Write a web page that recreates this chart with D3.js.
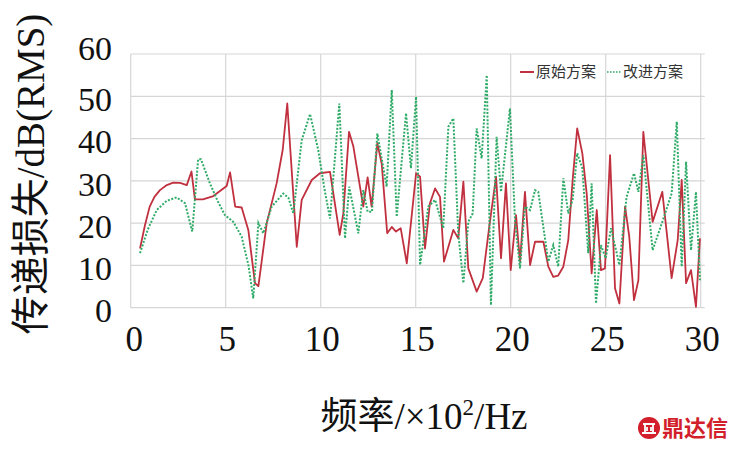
<!DOCTYPE html>
<html>
<head>
<meta charset="utf-8">
<script src="https://cdn.jsdelivr.net/npm/d3@7"></script>
<style>
  body { margin: 0; background: #fff; }
  svg { display: block; }
</style>
</head>
<body>
<svg id="chart" width="740" height="452"></svg>
<script>
// 原始方案 (red, solid)
let origFreq = [0.49, 0.75, 1.0, 1.25, 1.54, 1.9, 2.24, 2.6, 2.95, 3.2, 3.38, 3.8, 4.35, 5.05, 5.23,
  5.5, 5.84, 6.19, 6.54, 6.72, 7.16, 7.68, 8.0, 8.24, 8.74, 9.0, 9.53, 9.96, 10.49, 11.0,
  11.19, 11.49, 11.72, 11.98, 12.24, 12.47, 12.68, 12.98, 13.21, 13.5, 13.74, 13.96, 14.21, 14.53, 15.02,
  15.23, 15.49, 15.75, 16.02, 16.28, 16.49, 16.98, 17.24, 17.51, 17.77, 18.21, 18.53, 18.87, 19.23, 19.49,
  19.75, 20.0, 20.28, 20.49, 20.75, 21.02, 21.28, 21.72, 21.98, 22.24, 22.5, 22.77, 23.03, 23.26, 23.5,
  23.77, 24.0, 24.26, 24.53, 24.75, 24.96, 25.23, 25.49, 25.72, 26.02, 26.24, 26.49, 26.72, 26.98, 27.47,
  27.98, 28.47, 28.79, 29.0, 29.23, 29.49, 29.75, 29.96]
let origLoss = [14.0, 19.5, 23.9, 26.2, 27.8, 29.0, 29.6, 29.5, 29.0, 32.2, 25.6, 25.6, 26.4, 28.8, 32.0,
  23.9, 23.7, 18.4, 5.8, 5.1, 20.0, 29.4, 37.3, 48.3, 14.4, 25.5, 30.2, 31.8, 32.1, 17.2,
  22.3, 41.6, 38.1, 31.0, 23.9, 30.8, 23.9, 38.9, 34.1, 17.6, 19.1, 18.0, 18.8, 10.5, 31.8,
  31.0, 14.0, 24.7, 28.2, 26.2, 10.9, 18.4, 16.4, 29.8, 9.3, 3.8, 7.0, 19.1, 31.0, 11.7,
  29.4, 8.9, 21.9, 10.9, 27.4, 10.1, 15.6, 15.6, 9.7, 7.3, 7.6, 9.7, 16.0, 30.2, 42.4,
  36.5, 27.0, 8.1, 23.1, 8.9, 9.3, 36.1, 4.6, 1.0, 23.9, 16.8, 1.8, 6.5, 41.6, 20.3,
  27.4, 7.0, 16.0, 30.2, 5.8, 8.9, 0.2, 16.4]

// 改进方案 (green, dotted)
let newFreq = [0.49, 0.9, 1.37, 1.9, 2.42, 2.86, 3.24, 3.55, 3.7, 4.17, 4.6, 4.96, 5.4, 5.84, 6.2,
  6.45, 6.72, 6.98, 7.42, 8.03, 8.3, 8.56, 9.0, 9.44, 9.87, 10.2, 10.49, 10.98, 11.28, 11.5,
  11.98, 12.24, 12.47, 12.7, 12.98, 13.47, 13.74, 14.0, 14.49, 14.75, 15.02, 15.23, 15.66, 16.02, 16.45,
  16.72, 16.98, 17.24, 17.51, 17.77, 18.0, 18.21, 18.47, 18.74, 18.96, 19.26, 19.49, 19.96, 20.23, 20.49,
  20.75, 21.02, 21.28, 21.45, 21.98, 22.24, 22.5, 22.77, 23.03, 23.26, 23.5, 23.77, 24.08, 24.26, 24.49,
  24.75, 25.0, 25.28, 25.72, 26.1, 26.49, 26.72, 26.98, 27.47, 27.98, 28.47, 28.74, 29.0, 29.23, 29.49,
  29.75, 29.96]
let newLoss = [12.9, 18.5, 23.1, 25.3, 26.1, 24.7, 18.0, 35.1, 35.1, 29.4, 25.0, 21.9, 20.3, 16.8, 10.0,
  2.2, 20.0, 17.6, 23.9, 27.0, 26.0, 22.3, 39.6, 45.8, 37.3, 28.0, 21.1, 48.3, 16.4, 28.6,
  17.6, 27.8, 22.7, 22.7, 41.2, 28.6, 51.5, 21.5, 46.0, 33.0, 49.9, 10.1, 23.9, 25.5, 18.8,
  42.8, 44.8, 17.6, 5.8, 20.3, 22.3, 42.4, 35.3, 55.0, 0.6, 40.4, 27.4, 47.1, 20.3, 9.3,
  23.9, 23.1, 27.8, 27.4, 10.9, 14.8, 9.7, 30.6, 22.3, 25.5, 36.5, 33.0, 12.9, 29.4, 1.0,
  14.8, 11.7, 18.8, 10.1, 26.2, 31.8, 27.4, 36.1, 13.6, 20.3, 27.0, 44.0, 9.7, 34.5, 13.6,
  27.4, 6.5]

let xTicks = [0, 5, 10, 15, 20, 25, 30]
let yTicks = [0, 10, 20, 30, 40, 50, 60]
let seriesNames = ['原始方案', '改进方案']

let serif = '"Liberation Serif", "Times New Roman", "Noto Sans CJK SC", serif'
let cjk = '"Noto Sans CJK SC", sans-serif'

let svg = d3.select('#chart')

let x = d3.scaleLinear().domain([0, 30]).range([130.7, 700.7])
let y = d3.scaleLinear().domain([0, 60]).range([307.7, 54])

// grid
let grid = svg.append('g').attr('class', 'grid')
grid.selectAll('line.h')
  .data(yTicks)
  .join('line')
    .attr('class', 'h')
    .attr('x1', x(0)).attr('x2', x(30) + 4)
    .attr('y1', d => y(d)).attr('y2', d => y(d))
    .attr('stroke', '#d6d6d6').attr('stroke-width', 1.2)
grid.selectAll('line.v')
  .data(xTicks)
  .join('line')
    .attr('class', 'v')
    .attr('x1', d => x(d)).attr('x2', d => x(d))
    .attr('y1', y(60)).attr('y2', y(0))
    .attr('stroke', '#d6d6d6').attr('stroke-width', 1.2)

// y axis labels
let yAxis = d3.axisLeft(y).tickValues(yTicks).tickSize(0).tickPadding(0)
svg.append('g')
    .attr('transform', 'translate(112,0)')
    .call(yAxis)
    .call(g => g.select('.domain').remove())
    .call(g => g.selectAll('text')
      .attr('font-family', serif)
      .attr('font-size', 34)
      .attr('fill', '#111')
      // the top label sits a little above its gridline in the original
      .attr('dy', d => d === 60 ? '0.15em' : '0.42em'))

// x axis labels
let xAxis = d3.axisBottom(x).tickValues(xTicks).tickSize(0).tickPadding(0)
svg.append('g')
    .attr('transform', 'translate(0,326)')
    .call(xAxis)
    .call(g => g.select('.domain').remove())
    .call(g => g.selectAll('text')
      .attr('font-family', serif)
      .attr('font-size', 35)
      .attr('fill', '#111')
      .attr('dx', d => d === 0 ? 3 : 1))

// series
let line = d3.line()
  .x(d => x(d[0]))
  .y(d => y(d[1]))

svg.append('path')
    .datum(d3.zip(origFreq, origLoss))
    .attr('fill', 'none')
    .attr('stroke', '#c1303f')
    .attr('stroke-width', 1.8)
    .attr('stroke-linejoin', 'round')
    .attr('d', line)

svg.append('path')
    .datum(d3.zip(newFreq, newLoss))
    .attr('fill', 'none')
    .attr('stroke', '#2fab68')
    .attr('stroke-width', 2)
    .attr('stroke-dasharray', '2,1.6')
    .attr('d', line)

// legend
let legend = svg.append('g').attr('transform', 'translate(520,72)')
legend.append('line')
    .attr('x1', 0).attr('x2', 14)
    .attr('stroke', '#c1303f').attr('stroke-width', 2)
legend.append('text')
    .attr('x', 16).attr('dy', '0.36em')
    .attr('font-family', cjk).attr('font-size', 15).attr('fill', '#333')
    .text(seriesNames[0])
legend.append('line')
    .attr('x1', 87).attr('x2', 101)
    .attr('stroke', '#2fab68').attr('stroke-width', 1.5)
    .attr('stroke-dasharray', '1.5,1.5')
legend.append('text')
    .attr('x', 103).attr('dy', '0.36em')
    .attr('font-family', cjk).attr('font-size', 15).attr('fill', '#333')
    .text(seriesNames[1])

// axis titles
svg.append('text')
    .attr('transform', 'translate(44,174) rotate(-90)')
    .attr('text-anchor', 'middle')
    .attr('font-family', serif)
    .attr('font-size', 39)
    .attr('fill', '#111')
    .text('传递损失/dB(RMS)')

let xTitle = svg.append('text')
    .attr('x', 424).attr('y', 429)
    .attr('text-anchor', 'middle')
    .attr('font-family', serif)
    .attr('font-size', 37)
    .attr('fill', '#111')
xTitle.append('tspan').text('频率/×10')
xTitle.append('tspan').attr('font-size', 23).attr('dy', -14).text('2')
xTitle.append('tspan').attr('dy', 14).text('/Hz')

// watermark
let mark = svg.append('g').attr('transform', 'translate(649,428)')
mark.append('circle').attr('r', 11).attr('fill', '#d21f2b')
mark.append('path')
    .attr('d', 'M-6,-4 H6 M-4,-4 V5 M4,-4 V5 M-7,5 H7 M-2,-1 V3 M2,-1 V3')
    .attr('stroke', '#fff').attr('stroke-width', 1.8).attr('fill', 'none')
mark.append('text')
    .attr('x', 13).attr('dy', '0.36em')
    .attr('font-family', cjk).attr('font-weight', 'bold')
    .attr('font-size', 22).attr('fill', '#d21f2b')
    .text('鼎达信')
</script>
</body>
</html>
